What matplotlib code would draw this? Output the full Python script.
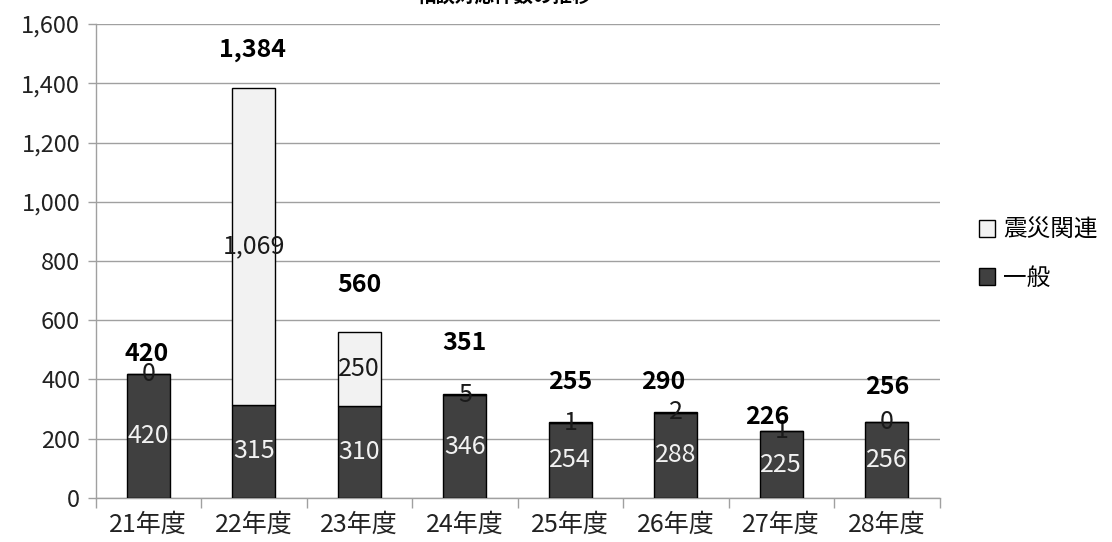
import matplotlib
matplotlib.use("Agg")
import matplotlib.pyplot as plt
import numpy as np

plt.rcParams['font.family'] = ['Noto Sans CJK JP', 'DejaVu Sans']

years = ['21年度', '22年度', '23年度', '24年度', '25年度', '26年度', '27年度', '28年度']
general = [420, 315, 310, 346, 254, 288, 225, 256]
disaster = [0, 1069, 250, 5, 1, 2, 1, 0]
totals = [420, 1384, 560, 351, 255, 290, 226, 256]
y_ticks = [0, 200, 400, 600, 800, 1000, 1200, 1400, 1600]

# nudges (in pixels) for the bold total labels, as placed in the original
total_dx = [-2, -1, 0, 0, 0, -13, -14, 0]
total_dy = [20, 38, 47, 51, 40, 30, 14, 35]

dark = '#404040'
light = '#f2f2f2'

fig = plt.figure(figsize=(11.12, 5.42), dpi=100)
ax = fig.add_axes([0.0859, 0.0812, 0.7590, 0.8745])

x = np.arange(len(years))
w = 0.41
ax.bar(x, general, w, color=dark, edgecolor='black', linewidth=1, zorder=3, label='一般')
ax.bar(x, disaster, w, bottom=general, color=light, edgecolor='black', linewidth=1,
       zorder=3, label='震災関連')

for i in range(len(years)):
    ax.text(x[i], general[i] / 2, f'{general[i]:,}', ha='center', va='center',
            fontsize=18, color='#f2f2f2', zorder=5)
    ax.text(x[i], general[i] + disaster[i] / 2, f'{disaster[i]:,}', ha='center',
            va='center', fontsize=18, color='#1a1a1a', zorder=5)
    ax.annotate(f'{totals[i]:,}', (x[i], totals[i]), xytext=(total_dx[i], total_dy[i]),
                textcoords='offset pixels', ha='center', va='center',
                fontsize=18, fontweight='bold', color='black', zorder=5)

ax.set_xlim(-0.5, len(years) - 0.5)
ax.set_ylim(0, 1600)
ax.set_yticks(y_ticks)
ax.set_yticklabels([f'{v:,}' for v in y_ticks])
ax.set_xticks(x)
ax.set_xticklabels(years)
ax.set_xticks(np.arange(len(years) + 1) - 0.5, minor=True)
ax.tick_params(axis='x', which='major', length=0, pad=10, labelsize=18, labelcolor='#222222')
ax.tick_params(axis='x', which='minor', length=7, color='#a0a0a0', width=1)
ax.tick_params(axis='y', length=6, color='#a0a0a0', width=1, labelsize=17,
               labelcolor='#222222', pad=5)

ax.grid(axis='y', color='#a0a0a0', linewidth=1, zorder=0)
for s in ['top', 'right']:
    ax.spines[s].set_visible(False)
for s in ['left', 'bottom']:
    ax.spines[s].set_color('#a0a0a0')
    ax.spines[s].set_linewidth(1)

handles, labels = ax.get_legend_handles_labels()
leg = fig.legend(handles[::-1], labels[::-1], loc='center left',
                 bbox_to_anchor=(0.861, 0.531), frameon=False, fontsize=17,
                 handlelength=0.7, handleheight=0.7, handletextpad=0.35,
                 labelspacing=1.05)

fig.text(0.454, 1 - 6 / 542, '相談対応件数の推移', ha='center', va='bottom',
         fontsize=14, fontweight='bold')

fig.savefig('out.png', dpi=100)
